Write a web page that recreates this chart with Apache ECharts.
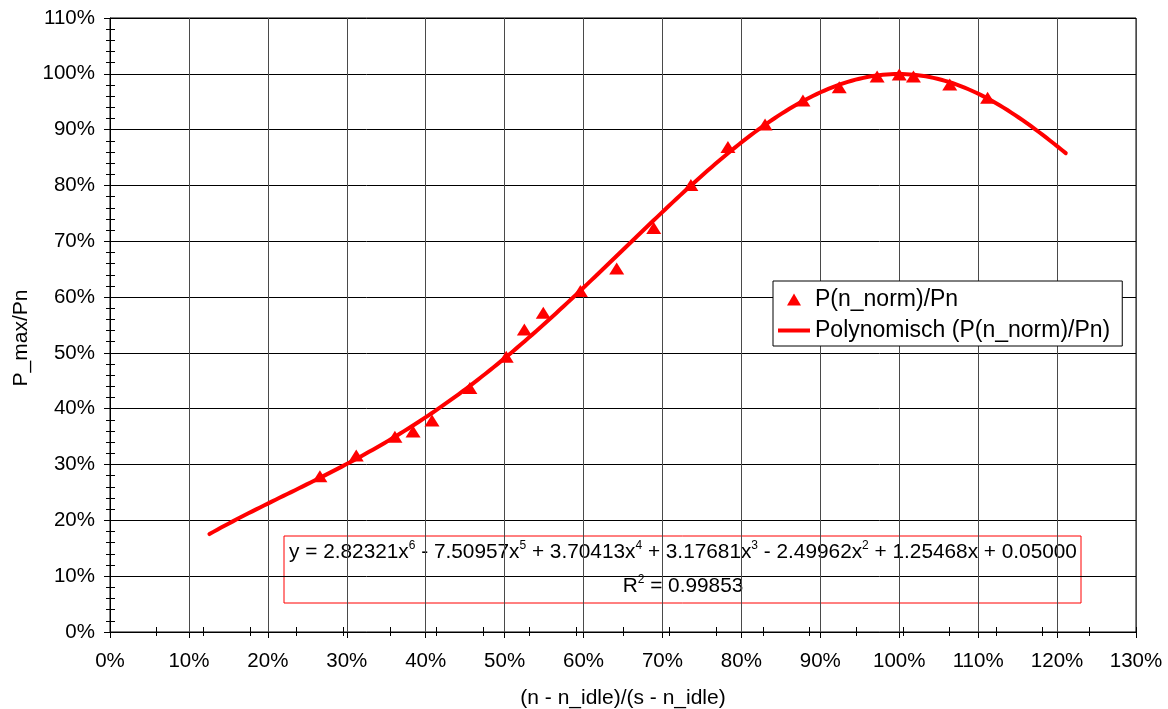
<!DOCTYPE html>
<html>
<head>
<meta charset="utf-8">
<script src="https://cdn.jsdelivr.net/npm/echarts@6.0.0/dist/echarts.min.js"></script>
<style>
  html, body { margin: 0; padding: 0; background: #fff; }
  #chart { width: 1168px; height: 709px; }
</style>
</head>
<body>
<div id="chart"></div>
<script>
// Measured points: normalised speed (%) vs. normalised max power (%)
const speedPct = [26.6, 31.2, 36.1, 38.4, 40.8, 45.6, 50.2, 52.5, 54.9, 59.6, 64.2,
                  68.9, 73.6, 78.3, 83.0, 87.8, 92.4, 97.2, 100.0, 101.8, 106.4, 111.2];
const powerPct = [27.9, 31.6, 35.0, 35.9, 37.9, 43.7, 49.3, 54.2, 57.2, 61.1, 65.1,
                  72.4, 80.1, 86.9, 90.9, 95.2, 97.6, 99.5, 99.9, 99.5, 98.1, 95.7];

// 6th-order polynomial trendline, highest power first
const trendCoeffs = [2.82321, -7.50957, 3.70413, 3.17681, -2.49962, 1.25468, 0.05000];
const trendR2 = 0.99853;
const trendRange = [12.6, 121.1];   // x-extent of the trendline (%)

const xTicks = { min: 0, max: 130, step: 10, minorParts: 22 };
const yTicks = { min: 0, max: 110, step: 10, minorStep: 2 };

const seriesNames = ['P(n_norm)/Pn', 'Polynomisch (P(n_norm)/Pn)'];
const xTitle = '(n - n_idle)/(s - n_idle)';
const yTitle = 'P_max/Pn';

const FONT = '"Liberation Sans", Arial, sans-serif';

function poly(x) {
  let y = 0;
  for (const c of trendCoeffs) y = y * x + c;
  return y;
}

const trendData = [];
for (let i = 0; i <= 220; i++) {
  const xp = trendRange[0] + (trendRange[1] - trendRange[0]) * i / 220;
  trendData.push([xp, poly(xp / 100) * 100]);
}

function equationText() {
  const n = trendCoeffs.length - 1;
  let s = 'y = ';
  trendCoeffs.forEach((c, i) => {
    const p = n - i;
    const mag = Math.abs(c).toFixed(5);
    if (i === 0) s += (c < 0 ? '-' : '') + mag;
    else s += (c < 0 ? ' - ' : ' + ') + mag;
    if (p > 1) s += 'x{s|' + p + '}';
    else if (p === 1) s += 'x';
  });
  return s;
}

const chart = echarts.init(document.getElementById('chart'), null, { renderer: 'canvas' });

const gridBox = { left: 110, right: 32, top: 18, bottom: 77 };

const minorX = xTicks.max / xTicks.minorParts;

function hiddenX(inside, len) {
  return {
    type: 'value', min: xTicks.min, max: xTicks.max, interval: minorX,
    position: 'bottom', axisLine: { show: false, onZero: false },
    axisTick: { show: true, inside: inside, length: len, lineStyle: { color: '#000', width: 1 } },
    axisLabel: { show: false }, splitLine: { show: false }
  };
}
function hiddenY(inside, len) {
  return {
    type: 'value', min: yTicks.min, max: yTicks.max, interval: yTicks.minorStep,
    position: 'left', axisLine: { show: false, onZero: false },
    axisTick: { show: true, inside: inside, length: len, lineStyle: { color: '#000', width: 1 } },
    axisLabel: { show: false }, splitLine: { show: false }
  };
}

const supStyle = { fontFamily: FONT, fontSize: 12, lineHeight: 12, verticalAlign: 'top', fill: '#000' };

chart.setOption({
  animation: false,
  backgroundColor: '#fff',
  textStyle: { fontFamily: FONT },
  grid: Object.assign({
    show: true, borderColor: '#000', borderWidth: 1, backgroundColor: 'transparent',
    containLabel: false, outerBoundsMode: 'none'
  }, gridBox),
  xAxis: [
    {
      type: 'value', min: xTicks.min, max: xTicks.max, interval: xTicks.step,
      position: 'bottom',
      name: xTitle, nameLocation: 'middle', nameGap: 56,
      nameTextStyle: { fontFamily: FONT, fontSize: 21, color: '#000' },
      axisLine: { show: true, onZero: false, lineStyle: { color: '#000', width: 1 } },
      axisTick: { show: true, length: 6, lineStyle: { color: '#000' } },
      axisLabel: { formatter: '{value}%', fontFamily: FONT, fontSize: 20.5, color: '#000', margin: 19 },
      splitLine: { show: true, lineStyle: { color: '#4a4a4a', width: 1 } }
    },
    hiddenX(true, 5),
    hiddenX(false, 4)
  ],
  yAxis: [
    {
      type: 'value', min: yTicks.min, max: yTicks.max, interval: yTicks.step,
      position: 'left',
      axisLine: { show: true, onZero: false, lineStyle: { color: '#000', width: 1 } },
      axisTick: { show: true, length: 6, lineStyle: { color: '#000' } },
      axisLabel: { formatter: '{value}%', fontFamily: FONT, fontSize: 20.5, color: '#000', margin: 15 },
      splitLine: { show: true, lineStyle: { color: '#000', width: 1 } }
    },
    hiddenY(true, 5),
    hiddenY(false, 4)
  ],
  legend: {
    orient: 'vertical',
    left: 773, top: 281,
    backgroundColor: '#fff',
    borderColor: '#000', borderWidth: 1,
    padding: [7, 12, 4, 5],
    itemWidth: 32, itemHeight: 12, itemGap: 8,
    itemTextGap: 7,
    symbolKeepAspect: true,
    textStyle: { fontFamily: FONT, fontSize: 23, color: '#000', lineHeight: 22 },
    data: [
      { name: seriesNames[0], icon: 'path://M7,0L14,12L0,12Z', itemStyle: { opacity: 1 } },
      { name: seriesNames[1], icon: 'path://M0,0H32V4H0Z' }
    ]
  },
  series: [
    {
      name: seriesNames[1],
      type: 'line',
      data: trendData,
      showSymbol: false,
      symbol: 'none',
      smooth: false,
      lineStyle: { color: '#ff0000', width: 4, cap: 'round', join: 'round' },
      itemStyle: { color: '#ff0000' },
      z: 3
    },
    {
      name: seriesNames[0],
      type: 'scatter',
      data: speedPct.map((x, i) => [x, powerPct[i]]),
      symbol: 'triangle',
      symbolSize: [15, 12],
      itemStyle: { color: '#ff0000', opacity: 1 },
      z: 4
    }
  ],
  graphic: [
    {
      type: 'group', z: 50,
      children: [
        {
          type: 'rect',
          shape: { x: 284, y: 536, width: 797, height: 67 },
          style: { fill: '#fff', stroke: '#ff0000', lineWidth: 1 }
        },
        {
          type: 'text', x: 683, y: 552,
          style: {
            text: equationText(),
            fontFamily: FONT, fontSize: 20.8, lineHeight: 24, fill: '#000',
            align: 'center', verticalAlign: 'middle',
            rich: { s: supStyle }
          }
        },
        {
          type: 'text', x: 683, y: 586,
          style: {
            text: 'R{s|2} = ' + trendR2.toFixed(5),
            fontFamily: FONT, fontSize: 20.8, lineHeight: 24, fill: '#000',
            align: 'center', verticalAlign: 'middle',
            rich: { s: supStyle }
          }
        }
      ]
    },
    {
      type: 'text', x: 21, y: 338, rotation: Math.PI / 2,
      style: {
        text: yTitle, fontFamily: FONT, fontSize: 21, fill: '#000',
        align: 'center', verticalAlign: 'middle'
      }
    }
  ]
});
</script>
</body>
</html>
